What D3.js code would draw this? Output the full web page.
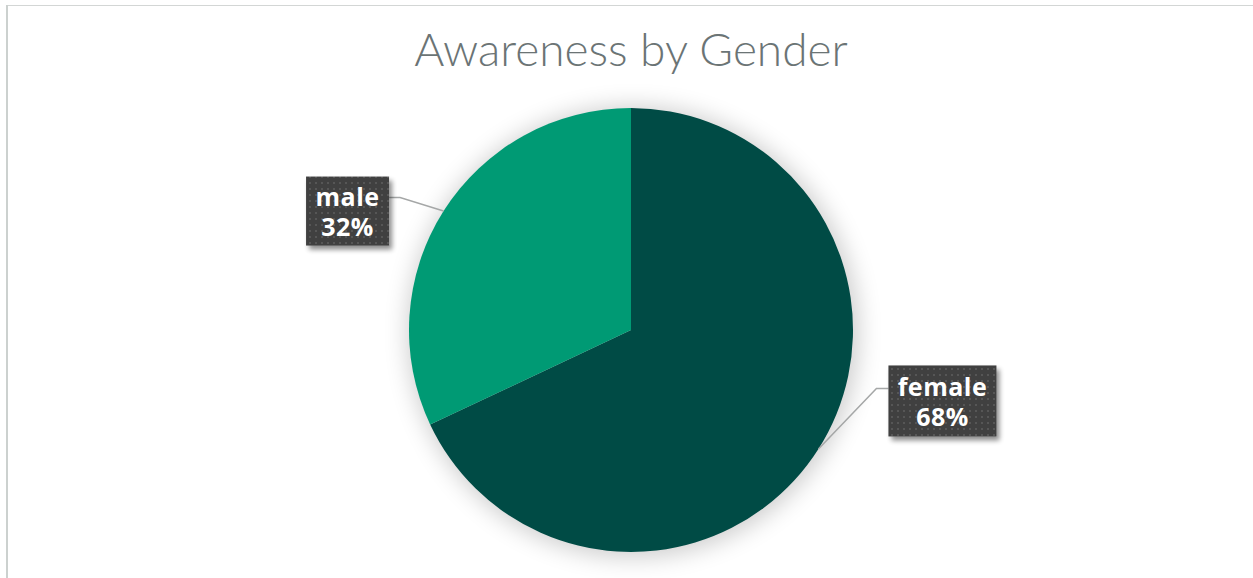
<!DOCTYPE html>
<html>
<head>
<meta charset="utf-8">
<script src="https://cdn.jsdelivr.net/npm/d3@7"></script>
<style>
  html, body { margin: 0; padding: 0; background: #fff; }
  svg { display: block; }
</style>
</head>
<body>
<svg id="chart" width="1253" height="578"></svg>
<script>
// Awareness split by gender
const categories = ["female", "male"];
const shares = [68, 32];
const sliceColors = ["#004b45", "#009a74"];
const chartTitle = "Awareness by Gender";

const W = 1253, H = 578;
const cx = 631, cy = 330, R = 222;

const svg = d3.select("#chart");
const defs = svg.append("defs");

// soft glow behind the pie
const glow = defs.append("filter").attr("id", "pieGlow")
  .attr("x", "-30%").attr("y", "-30%").attr("width", "160%").attr("height", "160%");
glow.append("feGaussianBlur").attr("stdDeviation", 12);

// drop shadow for the label boxes
const boxShadow = defs.append("filter").attr("id", "boxShadow")
  .attr("x", "-20%").attr("y", "-20%").attr("width", "150%").attr("height", "160%");
boxShadow.append("feGaussianBlur").attr("in", "SourceAlpha").attr("stdDeviation", 2.5).attr("result", "b");
boxShadow.append("feOffset").attr("in", "b").attr("dx", 3).attr("dy", 4).attr("result", "o");
boxShadow.append("feComponentTransfer").attr("in", "o").attr("result", "s")
  .append("feFuncA").attr("type", "linear").attr("slope", 0.45);
const m = boxShadow.append("feMerge");
m.append("feMergeNode").attr("in", "s");
m.append("feMergeNode").attr("in", "SourceGraphic");

// dotted texture for label boxes
const pat = defs.append("pattern").attr("id", "dots")
  .attr("width", 6).attr("height", 6).attr("patternUnits", "userSpaceOnUse");
pat.append("rect").attr("width", 6).attr("height", 6).attr("fill", "#3f3f3f");
pat.append("rect").attr("x", 2).attr("y", 2).attr("width", 2).attr("height", 2).attr("fill", "#575757");

// chart frame
svg.append("line").attr("x1", 7).attr("y1", 5.5).attr("x2", W).attr("y2", 5.5)
  .attr("stroke", "#d3d6d5").attr("stroke-width", 1);
svg.append("line").attr("x1", 7).attr("y1", 5).attr("x2", 7).attr("y2", H)
  .attr("stroke", "#ccd1cf").attr("stroke-width", 2);

// title
svg.append("text")
  .attr("x", cx).attr("y", 66)
  .attr("text-anchor", "middle")
  .attr("font-family", "Lato, 'Open Sans', sans-serif")
  .attr("font-weight", 300)
  .attr("font-size", 46)
  .attr("fill", "#6b7475")
  .text(chartTitle);

const data = categories.map((c, i) => ({ name: c, value: shares[i], color: sliceColors[i] }));
const pie = d3.pie().sort(null).value(d => d.value);
const arcs = pie(data);
const arc = d3.arc().innerRadius(0).outerRadius(R);

const g = svg.append("g").attr("transform", `translate(${cx},${cy})`);

g.append("circle").attr("cx", 2).attr("cy", 2).attr("r", R + 3)
  .attr("fill", "#000").attr("opacity", 0.2).attr("filter", "url(#pieGlow)");

g.selectAll("path.slice").data(arcs).enter().append("path")
  .attr("class", "slice")
  .attr("d", arc)
  .attr("fill", d => d.data.color);

// label layout: box centre offset from the slice's outer mid-point
const labelLayout = {
  male:   { dx: -96, dy: 0, w: 83, h: 69 },
  female: { dx: 124, dy: -48, w: 108, h: 71 }
};

arcs.forEach(a => {
  const mid = (a.startAngle + a.endAngle) / 2;
  const ex = Math.sin(mid) * R, ey = -Math.cos(mid) * R;
  const L = labelLayout[a.data.name];
  const bx = ex + L.dx, by = ey + L.dy;
  const side = L.dx < 0 ? 1 : -1;
  const edgeX = bx + side * L.w / 2;
  // leader line: slice edge -> elbow -> box edge
  const kneeY = L.dx < 0 ? by - 13.5 : by - 12.5;
  const kneeX = edgeX + side * (L.dx < 0 ? 11 : 12);
  g.append("polyline")
    .attr("points", `${ex},${ey} ${kneeX},${kneeY} ${edgeX},${kneeY}`)
    .attr("fill", "none").attr("stroke", "#a5a7a7").attr("stroke-width", 1.5);

  g.append("rect")
    .attr("x", bx - L.w / 2).attr("y", by - L.h / 2)
    .attr("width", L.w).attr("height", L.h)
    .attr("fill", "url(#dots)")
    .attr("filter", "url(#boxShadow)");

  const t = g.append("text")
    .attr("text-anchor", "middle")
    .attr("font-family", "'Open Sans', Lato, sans-serif")
    .attr("font-weight", 700)
    .attr("font-size", 25)
    .attr("letter-spacing", 0.5)
    .attr("fill", "#ffffff");
  t.append("tspan").attr("x", bx).attr("y", by - 5).text(a.data.name);
  t.append("tspan").attr("x", bx).attr("y", by + 25).text(a.data.value + "%");
});
</script>
</body>
</html>
